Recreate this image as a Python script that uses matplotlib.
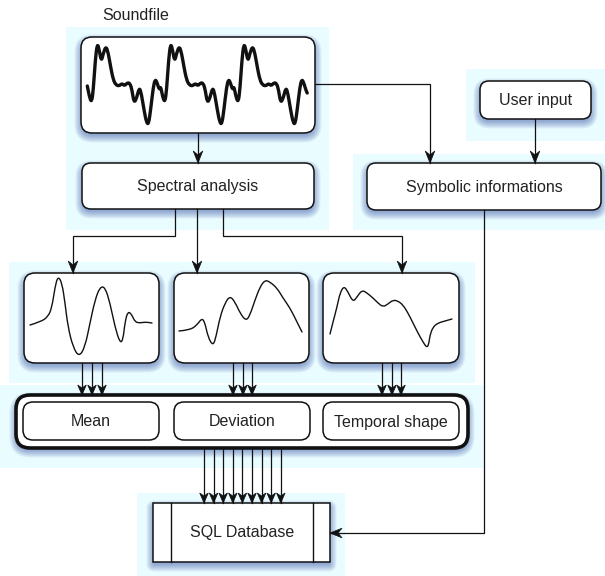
import matplotlib.pyplot as plt
from matplotlib.patches import FancyBboxPatch, Rectangle, Polygon, PathPatch
from matplotlib.path import Path
import numpy as np

plt.rcParams["font.family"] = ["Liberation Sans", "DejaVu Sans"]

# labels
SOURCE_LABEL = "Soundfile"
SPECTRAL_LABEL = "Spectral analysis"
SYMBOLIC_LABEL = "Symbolic informations"
USER_LABEL = "User input"
DESCRIPTOR_LABELS = ["Mean", "Deviation", "Temporal shape"]
DB_LABEL = "SQL Database"

# one period of the soundfile waveform (offset in px from period start, y in px)
WAVE_DX = [0, 2, 4.3, 6, 8, 10, 12, 14, 16, 18.7, 21, 23.3, 26, 28.7, 32, 34.7,
           37.3, 40, 42.7, 44.7, 46.7, 49.3, 52, 54, 56.7, 59.3, 61.3, 63.3,
           66, 68, 70, 72]
WAVE_Y = [86, 96.7, 102.7, 90, 60, 43, 50, 61.7, 53.3, 46, 53.3, 66.7, 80,
          85, 86, 83.3, 86, 82.7, 83.3, 90, 103, 98.3, 87.3, 93.3, 110,
          123, 124, 110, 86.7, 79, 83.3, 90]
WAVE_PERIOD = 73.3
WAVE_REPEATS = 3
WAVE_END_Y = 93

# descriptor curves (px)
CURVE_MEAN_X = [30, 40, 48, 52, 55, 58, 62, 65, 68, 73, 79, 85, 90, 95, 100,
                105, 110, 115, 120, 123, 125, 128, 132, 135, 140, 145, 152]
CURVE_MEAN_Y = [325, 322, 317, 307, 287, 276, 283, 303, 327, 347, 357, 347,
                323, 300, 287, 287, 303, 327, 343, 340, 322, 311, 315, 322,
                323, 322, 323]
CURVE_DEV_X = [179, 190, 197, 202, 205, 208, 213, 216, 220, 225, 230, 235, 240,
               246, 250, 255, 260, 265, 270, 277, 283, 290, 296, 302]
CURVE_DEV_Y = [331, 330, 325, 318, 323, 337, 346, 337, 317, 303, 296, 302, 313,
               321, 315, 300, 287, 280, 282, 288, 298, 308, 320, 332]
CURVE_TEMP_X = [330, 333, 337, 340, 344, 348, 353, 357, 362, 367, 373, 378, 383,
                388, 393, 398, 403, 408, 413, 418, 423, 427, 429, 430, 433, 438,
                445, 452]
CURVE_TEMP_Y = [334, 322, 307, 293, 286, 292, 302, 297, 290, 293, 298, 303, 307,
                304, 300, 301, 305, 313, 323, 333, 342, 348, 343, 335, 327, 323,
                321, 319]

BG = "#e9fcff"
SHADOW = "#2d48a0"
INK = "#111111"

fig = plt.figure(figsize=(6.05, 5.76), dpi=100)
ax = fig.add_axes([0, 0, 1, 1])
ax.set_xlim(0, 605)
ax.set_ylim(576, 0)
ax.axis("off")


def background(x, y, w, h):
    ax.add_patch(Rectangle((x, y), w, h, facecolor=BG, edgecolor="none", zorder=0))


def shadow(x, y, w, h, r, square=False):
    for k in range(8):
        d = k * 1.0
        ax.add_patch(FancyBboxPatch(
            (x - d + 0.5, y - d + 4.5), w + 2 * d - 1, h + 2 * d - 2,
            boxstyle=f"round,pad=0,rounding_size={(1 if square else r) + d}",
            facecolor=SHADOW, edgecolor="none", alpha=0.07, zorder=1))


def box(x, y, w, h, r=9, lw=1.1, label=None, shade=True, z=2):
    if shade:
        shadow(x, y, w, h, r)
    ax.add_patch(FancyBboxPatch(
        (x, y), w, h, boxstyle=f"round,pad=0,rounding_size={r}",
        facecolor="white", edgecolor=INK, linewidth=lw, zorder=z))
    if label:
        ax.text(x + w / 2, y + h / 2 + 1, label, ha="center", va="center",
                fontsize=11.5, color="#222222", zorder=z + 1)


def smooth_line(xs, ys, lw):
    pts = np.column_stack([xs, ys]).astype(float)
    verts = [pts[0]]
    codes = [Path.MOVETO]
    for i in range(1, len(pts) - 1):
        verts += [pts[i], (pts[i] + pts[i + 1]) / 2]
        codes += [Path.CURVE3, Path.CURVE3]
    verts.append(pts[-1])
    codes.append(Path.LINETO)
    ax.add_patch(PathPatch(Path(verts, codes), facecolor="none", edgecolor=INK,
                           linewidth=lw, capstyle="round", joinstyle="round",
                           zorder=4))


def arrowhead(p_from, p_to, length=12, half=4.8, notch=4):
    p0 = np.array(p_from, float)
    p1 = np.array(p_to, float)
    d = (p1 - p0) / np.linalg.norm(p1 - p0)
    n = np.array([-d[1], d[0]])
    pts = [p1, p1 - length * d + half * n, p1 - (length - notch) * d,
           p1 - length * d - half * n]
    ax.add_patch(Polygon(pts, closed=True, facecolor=INK, edgecolor=INK,
                         linewidth=0.5, zorder=6))


def connector(points, **head):
    xs = [p[0] for p in points]
    ys = [p[1] for p in points]
    ax.plot(xs, ys, color=INK, linewidth=0.9, zorder=5,
            solid_joinstyle="miter")
    arrowhead(points[-2], points[-1], **head)


# light backgrounds
background(66, 27, 263, 203)
background(353, 154, 252, 76)
background(466, 69, 139, 72)
background(9, 262, 466, 121)
background(0, 385, 483, 83)
background(137, 493, 208, 83)

# source
ax.text(102, 16, SOURCE_LABEL, ha="left", va="center", fontsize=11.5,
        color="#222222")
box(81, 37, 234, 96, r=11)
x0 = 87.3
wave_x, wave_y = [], []
for i in range(WAVE_REPEATS):
    wave_x += [x0 + i * WAVE_PERIOD + dx for dx in WAVE_DX]
    wave_y += WAVE_Y
wave_x.append(x0 + WAVE_REPEATS * WAVE_PERIOD)
wave_y.append(WAVE_END_Y)
smooth_line(wave_x, wave_y, 2.4)

# stages
box(82, 163, 232, 46, label=SPECTRAL_LABEL)
box(367, 163, 234, 47, label=SYMBOLIC_LABEL)
box(480, 81, 111, 38, label=USER_LABEL)

# descriptor plots
box(24, 273, 135, 90, r=11)
box(174, 273, 135, 90, r=11)
box(323, 273, 136, 90, r=11)
for cx, cy in [(CURVE_MEAN_X, CURVE_MEAN_Y), (CURVE_DEV_X, CURVE_DEV_Y),
               (CURVE_TEMP_X, CURVE_TEMP_Y)]:
    smooth_line(cx, cy, 1.0)

# descriptor container
box(16, 395, 452, 53, r=14, lw=2.6)
for x, label in zip([23, 174, 323], DESCRIPTOR_LABELS):
    box(x, 402, 136, 38, r=10, label=label, shade=False, z=3)

# database
shadow(153, 503, 177, 59, 1, square=True)
ax.add_patch(Rectangle((153, 503), 177, 59, facecolor="white", edgecolor=INK,
                       linewidth=1.1, zorder=2))
ax.plot([171, 171], [503, 562], color=INK, linewidth=1.0, zorder=3)
ax.plot([313, 313], [503, 562], color=INK, linewidth=1.0, zorder=3)
ax.text(242, 533, DB_LABEL, ha="center", va="center", fontsize=11.5,
        color="#222222", zorder=3)

# connections
connector([(198, 133), (198, 163)])
connector([(315, 84), (430, 84), (430, 163)])
connector([(535, 119), (535, 163)])
connector([(175, 209), (175, 236), (73, 236), (73, 273)])
connector([(197, 209), (197, 273)])
connector([(223, 209), (223, 236), (402, 236), (402, 273)])
for xs in [(82, 92, 102), (233, 243, 252), (382, 392, 401)]:
    for x in xs:
        connector([(x, 363), (x, 395)], length=10, half=4.3, notch=3)
for i in range(9):
    x = 204 + i * 9.6
    connector([(x, 448), (x, 503)], length=10, half=4.3, notch=3)
connector([(484, 210), (484, 533), (330, 533)])

fig.savefig("out.png", dpi=100)
